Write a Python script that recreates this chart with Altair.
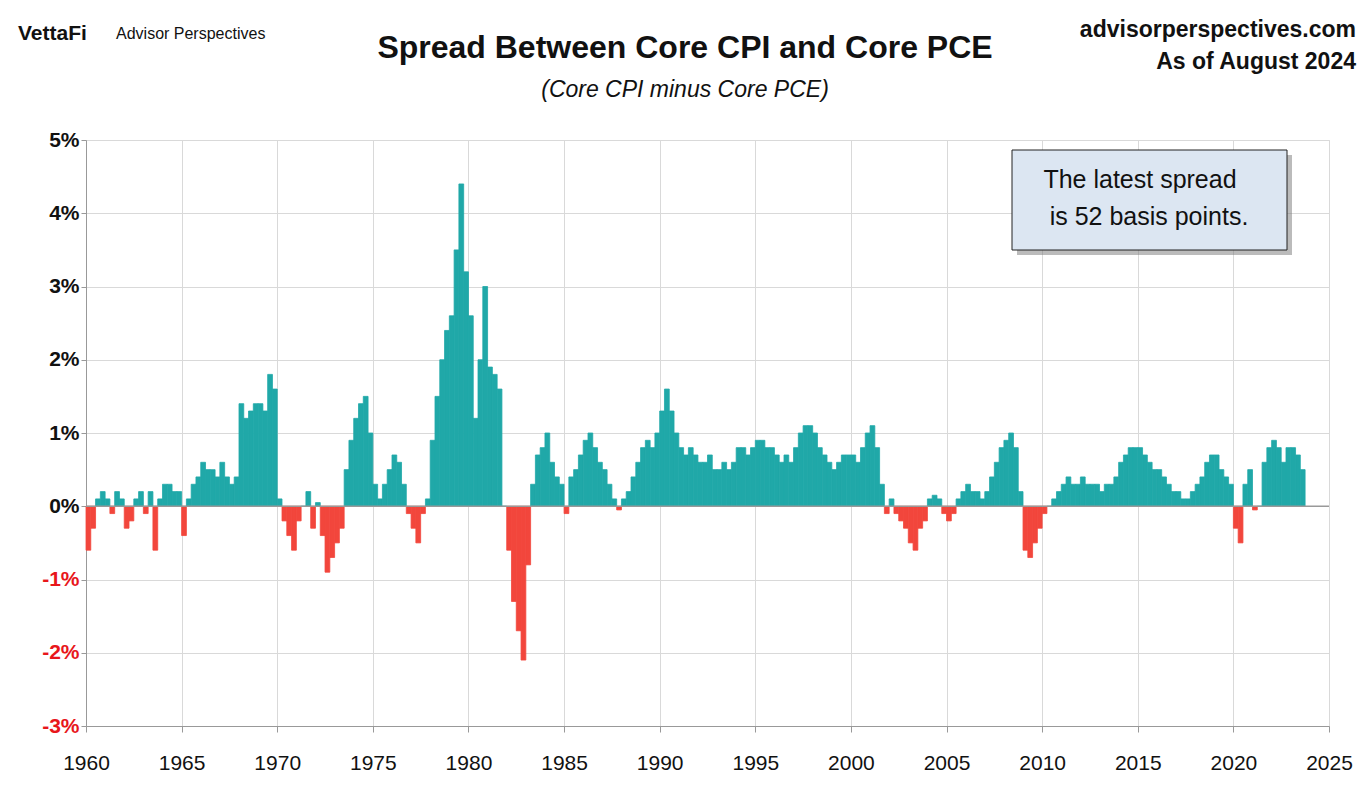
import altair as alt
import pandas as pd

start_year = 1960
spread = [
-0.6,-0.3,0.1,0.2, 0.1,-0.1,0.2,0.1, -0.3,-0.2,0.1,0.2, -0.1,0.2,-0.6,0.1,
0.3,0.3,0.2,0.2, -0.4,0.1,0.3,0.4, 0.6,0.5,0.5,0.4, 0.6,0.4,0.3,0.4,
1.4,1.2,1.3,1.4, 1.4,1.3,1.8,1.6, 0.1,-0.2,-0.4,-0.6, -0.2,0.0,0.2,-0.3,
0.05,-0.4,-0.9,-0.7, -0.5,-0.3,0.5,0.9, 1.2,1.4,1.5,1.0, 0.3,0.1,0.3,0.5,
0.7,0.6,0.3,-0.1, -0.3,-0.5,-0.1,0.1, 0.9,1.5,2.0,2.4, 2.6,3.5,4.4,3.2,
2.6,1.2,2.0,3.0, 1.9,1.8,1.6,0.0, -0.6,-1.3,-1.7,-2.1, -0.8,0.3,0.7,0.8,
1.0,0.6,0.4,0.3, -0.1,0.4,0.5,0.7, 0.9,1.0,0.8,0.6, 0.5,0.3,0.1,-0.05,
0.1,0.2,0.4,0.6, 0.8,0.9,0.8,1.0, 1.3,1.6,1.3,1.0, 0.8,0.7,0.8,0.7,
0.6,0.6,0.7,0.5, 0.5,0.6,0.5,0.6, 0.8,0.8,0.7,0.8, 0.9,0.9,0.8,0.8,
0.7,0.6,0.7,0.6, 0.8,1.0,1.1,1.1, 1.0,0.8,0.7,0.6, 0.5,0.6,0.7,0.7,
0.7,0.6,0.8,1.0, 1.1,0.8,0.3,-0.1, 0.1,-0.1,-0.2,-0.3, -0.5,-0.6,-0.3,-0.2,
0.1,0.15,0.1,-0.1, -0.2,-0.1,0.1,0.2, 0.3,0.2,0.2,0.1, 0.2,0.4,0.6,0.8,
0.9,1.0,0.8,0.2, -0.6,-0.7,-0.5,-0.3, -0.1,0.0,0.1,0.2, 0.3,0.4,0.3,0.3,
0.4,0.3,0.3,0.3, 0.2,0.3,0.3,0.4, 0.6,0.7,0.8,0.8, 0.8,0.7,0.6,0.5,
0.5,0.4,0.3,0.2, 0.2,0.1,0.1,0.2, 0.3,0.4,0.6,0.7, 0.7,0.5,0.4,0.3,
-0.3,-0.5,0.3,0.5, -0.05,0.0,0.6,0.8, 0.9,0.8,0.6,0.8, 0.8,0.7,0.5,
]
df = pd.DataFrame({"v": spread})
df["t"] = start_year + df.index * 0.25
df["t2"] = df["t"] + 0.25
df["sign"] = df["v"].apply(lambda v: "pos" if v >= 0 else "neg")

W, H = 1243, 586
cscale = alt.Scale(domain=["pos", "neg"], range=["#20a8a8", "#f2463c"])
bars = alt.Chart(df).mark_bar(strokeWidth=0.8).encode(
    x=alt.X("t:Q", scale=alt.Scale(domain=[1960, 2025], nice=False),
            axis=alt.Axis(values=list(range(1960, 2026, 5)), format="d", title=None,
                          labelFontSize=21, labelColor="#111", gridColor="#d9d9d9",
                          domainColor="#999", tickColor="#999", labelPadding=20, tickSize=6,
                          labelFlush=False, labelFont="Liberation Sans")),
    x2="t2:Q",
    y=alt.Y("v:Q", scale=alt.Scale(domain=[-3, 5], nice=False),
            axis=alt.Axis(values=list(range(-3, 6)), title=None, labelExpr="datum.value + '%'",
                          labelFontSize=21, labelFontWeight="bold", gridColor="#d9d9d9",
                          domainColor="#999", tickColor="#999", labelFont="Liberation Sans",
                          labelFlush=False,
                          labelColor={"condition": {"test": "datum.value < 0", "value": "#e8161b"}, "value": "#111"})),
    y2=alt.datum(0),
    color=alt.Color("sign:N", scale=cscale, legend=None),
    stroke=alt.Stroke("sign:N", scale=cscale, legend=None),
)
zero = alt.Chart(pd.DataFrame({"y": [0]})).mark_rule(color="#999", strokeWidth=1.5).encode(y="y:Q")

def txt(s, x, y, size, weight="normal", align="center", style="normal", color="#111"):
    return alt.Chart(pd.DataFrame({"a": [0]})).mark_text(
        text=s, fontSize=size, fontWeight=weight, align=align, fontStyle=style,
        color=color, font="Liberation Sans", baseline="middle").encode(x=alt.value(x), y=alt.value(y))

box_shadow = alt.Chart(pd.DataFrame({"a": [0]})).mark_rect(fill="#777", opacity=0.5).encode(
    x=alt.value(931), x2=alt.value(1206), y=alt.value(15), y2=alt.value(115))
box = alt.Chart(pd.DataFrame({"a": [0]})).mark_rect(fill="#dce6f2", stroke="#222", strokeWidth=1).encode(
    x=alt.value(926), x2=alt.value(1201), y=alt.value(10), y2=alt.value(110))

texts = [
    txt("Spread Between Core CPI and Core PCE", 599, -92, 32, "bold"),
    txt("(Core CPI minus Core PCE)", 599, -50, 23, style="italic"),
    txt("VettaFi", -68, -106, 21, "bold", align="left"),
    txt("Advisor Perspectives", 30, -106, 16, align="left"),
    txt("advisorperspectives.com", 1270, -110, 23, "bold", align="right"),
    txt("As of August 2024", 1270, -78, 23, "bold", align="right"),
    txt("The latest spread", 1054, 40, 25),
    txt("is 52 basis points.", 1063, 77, 25),
]

chart = alt.layer(bars, zero, box_shadow, box, *texts).properties(
    width=W, height=H, autosize="none",
    padding={"left": 78, "top": 132, "right": 34, "bottom": 55},
).configure_view(stroke=None).configure(background="white")

chart.save("out.html", embed_options={"renderer": "svg", "actions": False})
